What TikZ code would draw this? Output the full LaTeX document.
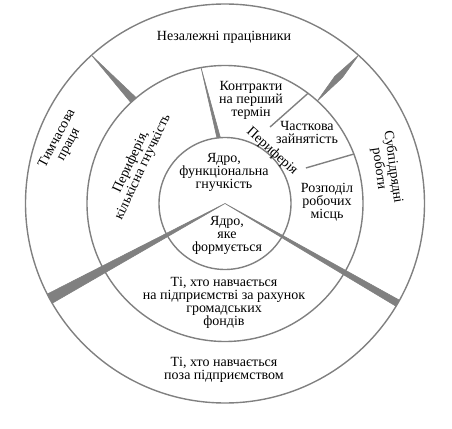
\documentclass[tikz,border=0pt]{standalone}
\usepackage{fontspec}
\setmainfont{Liberation Serif}
\begin{document}
\begin{tikzpicture}[x=1pt, y=1pt,
  ring/.style={circle, draw=gray, line width=1.4pt, inner sep=0pt, outer sep=0pt},
  wedge/.style={fill=gray, draw=gray, line width=0.6pt, line join=round},
  divider/.style={draw=gray, line width=1.4pt},
  sectortext/.style={align=center, inner sep=0pt, font=\fontsize{14}{13}\selectfont}]
\useasboundingbox (-225,-224.5) rectangle (227,203.5);

% Rings
\coordinate (centre) at (0,0);
\node[ring, minimum size=399pt] (outer) at (centre) {};
\node[ring, minimum size=276pt] (middle) at (centre) {};
\node[ring, minimum size=132pt] (core) at (centre) {};

% V-shaped wedges from the centre
\filldraw[wedge] (centre) -- (outer.207.8) -- (outer.210.2) -- cycle;
\filldraw[wedge] (centre) -- (outer.329.3) -- (outer.331.7) -- cycle;

% Wedges between sectors
\filldraw[wedge] (outer.132) -- (middle.130.8) -- (middle.133.2) -- cycle;
\filldraw[wedge] (outer.48) -- (47:172) -- (middle.48) -- (49.2:168) -- cycle;
\filldraw[wedge] (middle.100.8) -- (core.94.2) -- (core.97.6) -- cycle;

% Thin dividers on the right
\coordinate (partA) at (59.5:88.8);
\coordinate (partB) at (23.7:88.4);
\draw[divider] (middle.53.3) -- (partA);
\draw[divider] (middle.21.9) -- (partB);

% Outer ring
\node[sectortext] (independent) at (-1,166.5) {Незалежні працівники};
\node[sectortext, rotate=62] (temporary) at (-162,62) {Тимчасова\\праця};
\node[sectortext, rotate=-82] (subcontract) at (161,35.5) {Субпідрядні\\роботи};
\node[sectortext] (outside) at (-1,-166.5) {Ті, хто навчається\\поза підприємством};

% Middle ring
\node[sectortext, rotate=65] (periphery) at (-88,39) {Периферія,\\кількісна гнучкість};
\node[sectortext] (contracts) at (26,103.5) {Контракти\\на перший\\термін};
\node[sectortext] (parttime) at (82,71.5) {Часткова\\зайнятість};
\node[sectortext, rotate=-42] (periphery2) at (47,52) {Периферія};
\node[sectortext] (jobshare) at (102,1.5) {Розподіл\\робочих\\місць};
\node[sectortext] (trainees) at (-1,-99.5) {Ті, хто навчається\\на підприємстві за рахунок\\громадських\\фондів};

% Core
\node[sectortext] (corefunc) at (-1,31.5) {Ядро,\\функціональна\\гнучкість};
\node[sectortext] (coreform) at (2,-31.5) {Ядро,\\яке\\формується};

\end{tikzpicture}
\end{document}
